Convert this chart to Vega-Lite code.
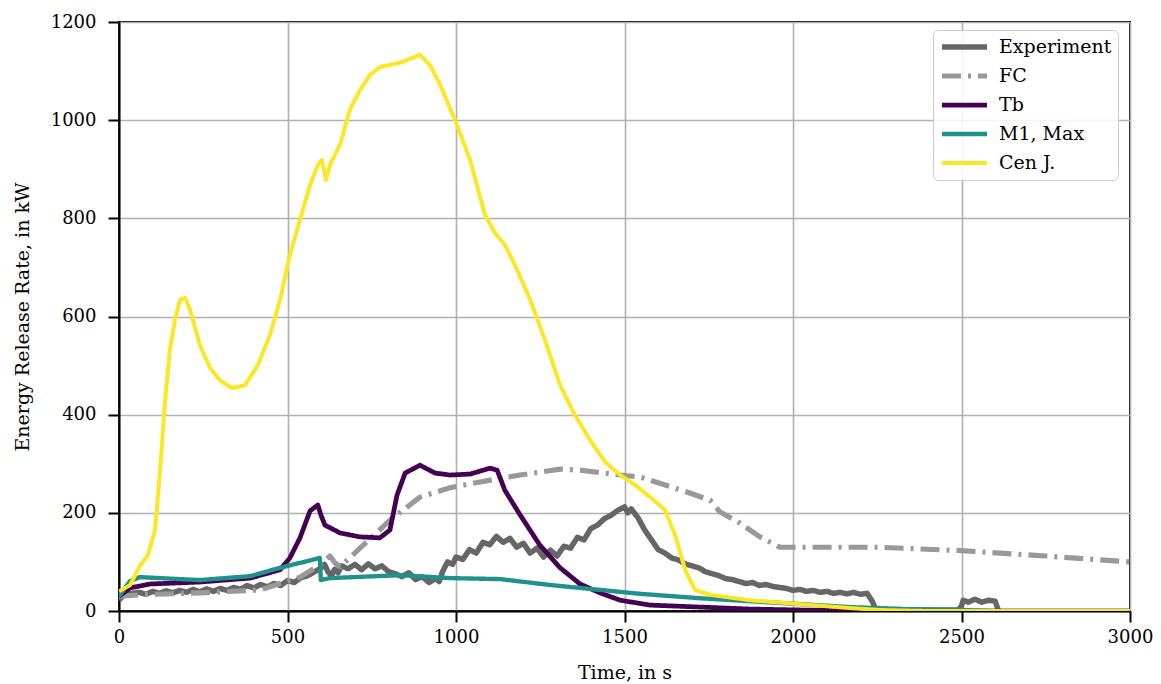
{
  "$schema": "https://vega.github.io/schema/vega-lite/v6.json",
  "width": 1011,
  "height": 589,
  "autosize": "none",
  "padding": {"left": 119, "top": 22, "right": 31, "bottom": 73},
  "background": "white",
  "config": {
    "font": "DejaVu Serif",
    "view": {"stroke": "black", "strokeWidth": 2},
    "axis": {
      "labelFont": "DejaVu Serif", "titleFont": "DejaVu Serif",
      "labelFontSize": 18, "titleFontSize": 19, "titleFontWeight": "normal",
      "labelColor": "black", "titleColor": "black",
      "domainColor": "black", "domainWidth": 2,
      "tickColor": "black", "tickWidth": 2, "tickSize": 11,
      "gridColor": "#b0b0b0", "gridWidth": 1.6, "gridOpacity": 1,
      "format": "d"
    }
  },
  "data": {"values": [
    {"s":"Experiment","t":0,"v":22},{"s":"Experiment","t":10,"v":30},{"s":"Experiment","t":20,"v":34},{"s":"Experiment","t":40,"v":36},{"s":"Experiment","t":60,"v":38},{"s":"Experiment","t":80,"v":34},{"s":"Experiment","t":100,"v":40},{"s":"Experiment","t":120,"v":36},{"s":"Experiment","t":140,"v":41},{"s":"Experiment","t":160,"v":37},{"s":"Experiment","t":180,"v":42},{"s":"Experiment","t":200,"v":38},{"s":"Experiment","t":220,"v":44},{"s":"Experiment","t":240,"v":39},{"s":"Experiment","t":260,"v":45},{"s":"Experiment","t":280,"v":40},{"s":"Experiment","t":300,"v":46},{"s":"Experiment","t":320,"v":42},{"s":"Experiment","t":340,"v":48},{"s":"Experiment","t":360,"v":44},{"s":"Experiment","t":380,"v":52},{"s":"Experiment","t":400,"v":47},{"s":"Experiment","t":420,"v":54},{"s":"Experiment","t":440,"v":49},{"s":"Experiment","t":460,"v":56},{"s":"Experiment","t":480,"v":52},{"s":"Experiment","t":500,"v":62},{"s":"Experiment","t":520,"v":58},{"s":"Experiment","t":540,"v":68},{"s":"Experiment","t":560,"v":72},{"s":"Experiment","t":580,"v":80},{"s":"Experiment","t":600,"v":88},{"s":"Experiment","t":610,"v":95},{"s":"Experiment","t":620,"v":80},{"s":"Experiment","t":630,"v":72},{"s":"Experiment","t":640,"v":85},{"s":"Experiment","t":650,"v":78},{"s":"Experiment","t":660,"v":92},{"s":"Experiment","t":680,"v":86},{"s":"Experiment","t":700,"v":95},{"s":"Experiment","t":720,"v":84},{"s":"Experiment","t":740,"v":96},{"s":"Experiment","t":760,"v":86},{"s":"Experiment","t":780,"v":92},{"s":"Experiment","t":800,"v":80},{"s":"Experiment","t":820,"v":76},{"s":"Experiment","t":840,"v":70},{"s":"Experiment","t":860,"v":78},{"s":"Experiment","t":880,"v":64},{"s":"Experiment","t":900,"v":70},{"s":"Experiment","t":920,"v":58},{"s":"Experiment","t":940,"v":66},{"s":"Experiment","t":950,"v":60},{"s":"Experiment","t":960,"v":80},{"s":"Experiment","t":975,"v":100},{"s":"Experiment","t":990,"v":95},{"s":"Experiment","t":1000,"v":110},{"s":"Experiment","t":1020,"v":105},{"s":"Experiment","t":1040,"v":125},{"s":"Experiment","t":1060,"v":118},{"s":"Experiment","t":1080,"v":140},{"s":"Experiment","t":1100,"v":135},{"s":"Experiment","t":1120,"v":152},{"s":"Experiment","t":1140,"v":140},{"s":"Experiment","t":1160,"v":148},{"s":"Experiment","t":1180,"v":130},{"s":"Experiment","t":1200,"v":138},{"s":"Experiment","t":1220,"v":118},{"s":"Experiment","t":1240,"v":128},{"s":"Experiment","t":1260,"v":110},{"s":"Experiment","t":1280,"v":124},{"s":"Experiment","t":1300,"v":112},{"s":"Experiment","t":1320,"v":132},{"s":"Experiment","t":1340,"v":128},{"s":"Experiment","t":1360,"v":150},{"s":"Experiment","t":1380,"v":145},{"s":"Experiment","t":1400,"v":168},{"s":"Experiment","t":1420,"v":175},{"s":"Experiment","t":1440,"v":188},{"s":"Experiment","t":1460,"v":195},{"s":"Experiment","t":1480,"v":205},{"s":"Experiment","t":1500,"v":212},{"s":"Experiment","t":1510,"v":200},{"s":"Experiment","t":1520,"v":208},{"s":"Experiment","t":1540,"v":190},{"s":"Experiment","t":1560,"v":165},{"s":"Experiment","t":1580,"v":145},{"s":"Experiment","t":1600,"v":125},{"s":"Experiment","t":1620,"v":118},{"s":"Experiment","t":1640,"v":108},{"s":"Experiment","t":1660,"v":104},{"s":"Experiment","t":1680,"v":96},{"s":"Experiment","t":1700,"v":92},{"s":"Experiment","t":1720,"v":88},{"s":"Experiment","t":1740,"v":80},{"s":"Experiment","t":1760,"v":76},{"s":"Experiment","t":1780,"v":72},{"s":"Experiment","t":1800,"v":66},{"s":"Experiment","t":1820,"v":64},{"s":"Experiment","t":1840,"v":60},{"s":"Experiment","t":1860,"v":56},{"s":"Experiment","t":1880,"v":58},{"s":"Experiment","t":1900,"v":52},{"s":"Experiment","t":1920,"v":54},{"s":"Experiment","t":1940,"v":50},{"s":"Experiment","t":1960,"v":48},{"s":"Experiment","t":1980,"v":46},{"s":"Experiment","t":2000,"v":42},{"s":"Experiment","t":2020,"v":44},{"s":"Experiment","t":2040,"v":40},{"s":"Experiment","t":2060,"v":42},{"s":"Experiment","t":2080,"v":38},{"s":"Experiment","t":2100,"v":40},{"s":"Experiment","t":2120,"v":36},{"s":"Experiment","t":2140,"v":38},{"s":"Experiment","t":2160,"v":35},{"s":"Experiment","t":2180,"v":38},{"s":"Experiment","t":2200,"v":34},{"s":"Experiment","t":2220,"v":36},{"s":"Experiment","t":2235,"v":20},{"s":"Experiment","t":2245,"v":4},{"s":"Experiment","t":2300,"v":3},{"s":"Experiment","t":2400,"v":2},{"s":"Experiment","t":2490,"v":2},{"s":"Experiment","t":2500,"v":10},{"s":"Experiment","t":2505,"v":22},{"s":"Experiment","t":2520,"v":18},{"s":"Experiment","t":2540,"v":24},{"s":"Experiment","t":2560,"v":18},{"s":"Experiment","t":2580,"v":22},{"s":"Experiment","t":2600,"v":20},{"s":"Experiment","t":2610,"v":0},

    {"s":"FC","t":0,"v":30},{"s":"FC","t":62,"v":33},{"s":"FC","t":240,"v":37},{"s":"FC","t":419,"v":43},{"s":"FC","t":537,"v":69},{"s":"FC","t":596,"v":94},{"s":"FC","t":626,"v":112},{"s":"FC","t":641,"v":98},{"s":"FC","t":656,"v":90},{"s":"FC","t":715,"v":128},{"s":"FC","t":804,"v":185},{"s":"FC","t":893,"v":232},{"s":"FC","t":982,"v":251},{"s":"FC","t":1071,"v":263},{"s":"FC","t":1190,"v":277},{"s":"FC","t":1309,"v":289},{"s":"FC","t":1368,"v":287},{"s":"FC","t":1487,"v":277},{"s":"FC","t":1546,"v":273},{"s":"FC","t":1665,"v":247},{"s":"FC","t":1754,"v":226},{"s":"FC","t":1783,"v":202},{"s":"FC","t":1843,"v":179},{"s":"FC","t":1902,"v":151},{"s":"FC","t":1961,"v":130},{"s":"FC","t":2250,"v":130},{"s":"FC","t":2500,"v":123},{"s":"FC","t":2750,"v":112},{"s":"FC","t":3000,"v":100},

    {"s":"Tb","t":0,"v":30},{"s":"Tb","t":33,"v":47},{"s":"Tb","t":92,"v":55},{"s":"Tb","t":240,"v":59},{"s":"Tb","t":389,"v":67},{"s":"Tb","t":478,"v":84},{"s":"Tb","t":507,"v":108},{"s":"Tb","t":537,"v":149},{"s":"Tb","t":567,"v":204},{"s":"Tb","t":590,"v":216},{"s":"Tb","t":599,"v":196},{"s":"Tb","t":611,"v":175},{"s":"Tb","t":656,"v":159},{"s":"Tb","t":715,"v":151},{"s":"Tb","t":774,"v":149},{"s":"Tb","t":804,"v":165},{"s":"Tb","t":825,"v":236},{"s":"Tb","t":849,"v":281},{"s":"Tb","t":893,"v":297},{"s":"Tb","t":938,"v":281},{"s":"Tb","t":982,"v":277},{"s":"Tb","t":1042,"v":279},{"s":"Tb","t":1101,"v":291},{"s":"Tb","t":1122,"v":287},{"s":"Tb","t":1145,"v":246},{"s":"Tb","t":1190,"v":196},{"s":"Tb","t":1249,"v":134},{"s":"Tb","t":1309,"v":88},{"s":"Tb","t":1368,"v":55},{"s":"Tb","t":1427,"v":37},{"s":"Tb","t":1487,"v":22},{"s":"Tb","t":1576,"v":12},{"s":"Tb","t":1724,"v":8},{"s":"Tb","t":1872,"v":4},{"s":"Tb","t":2021,"v":2},{"s":"Tb","t":2200,"v":0},{"s":"Tb","t":3000,"v":0},

    {"s":"M1, Max","t":0,"v":30},{"s":"M1, Max","t":33,"v":61},{"s":"M1, Max","t":62,"v":69},{"s":"M1, Max","t":122,"v":67},{"s":"M1, Max","t":240,"v":63},{"s":"M1, Max","t":389,"v":71},{"s":"M1, Max","t":478,"v":88},{"s":"M1, Max","t":537,"v":98},{"s":"M1, Max","t":596,"v":108},{"s":"M1, Max","t":599,"v":63},{"s":"M1, Max","t":626,"v":67},{"s":"M1, Max","t":834,"v":73},{"s":"M1, Max","t":982,"v":67},{"s":"M1, Max","t":1131,"v":65},{"s":"M1, Max","t":1279,"v":53},{"s":"M1, Max","t":1427,"v":43},{"s":"M1, Max","t":1546,"v":35},{"s":"M1, Max","t":1724,"v":26},{"s":"M1, Max","t":1872,"v":20},{"s":"M1, Max","t":2021,"v":14},{"s":"M1, Max","t":2169,"v":8},{"s":"M1, Max","t":2318,"v":4},{"s":"M1, Max","t":2496,"v":2},{"s":"M1, Max","t":2600,"v":0},{"s":"M1, Max","t":3000,"v":0},

    {"s":"Cen J.","t":0,"v":40},{"s":"Cen J.","t":33,"v":53},{"s":"Cen J.","t":62,"v":92},{"s":"Cen J.","t":86,"v":114},{"s":"Cen J.","t":107,"v":165},{"s":"Cen J.","t":122,"v":287},{"s":"Cen J.","t":137,"v":430},{"s":"Cen J.","t":151,"v":532},{"s":"Cen J.","t":166,"v":593},{"s":"Cen J.","t":181,"v":634},{"s":"Cen J.","t":196,"v":638},{"s":"Cen J.","t":211,"v":613},{"s":"Cen J.","t":240,"v":542},{"s":"Cen J.","t":270,"v":495},{"s":"Cen J.","t":300,"v":470},{"s":"Cen J.","t":335,"v":454},{"s":"Cen J.","t":374,"v":460},{"s":"Cen J.","t":412,"v":501},{"s":"Cen J.","t":448,"v":562},{"s":"Cen J.","t":478,"v":634},{"s":"Cen J.","t":507,"v":725},{"s":"Cen J.","t":537,"v":797},{"s":"Cen J.","t":567,"v":868},{"s":"Cen J.","t":590,"v":909},{"s":"Cen J.","t":602,"v":919},{"s":"Cen J.","t":614,"v":878},{"s":"Cen J.","t":626,"v":909},{"s":"Cen J.","t":656,"v":950},{"s":"Cen J.","t":685,"v":1021},{"s":"Cen J.","t":715,"v":1061},{"s":"Cen J.","t":745,"v":1092},{"s":"Cen J.","t":774,"v":1108},{"s":"Cen J.","t":834,"v":1117},{"s":"Cen J.","t":893,"v":1133},{"s":"Cen J.","t":923,"v":1112},{"s":"Cen J.","t":953,"v":1072},{"s":"Cen J.","t":997,"v":1000},{"s":"Cen J.","t":1042,"v":919},{"s":"Cen J.","t":1086,"v":807},{"s":"Cen J.","t":1116,"v":770},{"s":"Cen J.","t":1145,"v":746},{"s":"Cen J.","t":1175,"v":705},{"s":"Cen J.","t":1220,"v":634},{"s":"Cen J.","t":1264,"v":552},{"s":"Cen J.","t":1309,"v":460},{"s":"Cen J.","t":1353,"v":399},{"s":"Cen J.","t":1398,"v":348},{"s":"Cen J.","t":1442,"v":304},{"s":"Cen J.","t":1487,"v":277},{"s":"Cen J.","t":1531,"v":257},{"s":"Cen J.","t":1576,"v":232},{"s":"Cen J.","t":1620,"v":206},{"s":"Cen J.","t":1650,"v":155},{"s":"Cen J.","t":1680,"v":84},{"s":"Cen J.","t":1709,"v":43},{"s":"Cen J.","t":1754,"v":33},{"s":"Cen J.","t":1872,"v":22},{"s":"Cen J.","t":2021,"v":14},{"s":"Cen J.","t":2169,"v":6},{"s":"Cen J.","t":2258,"v":2},{"s":"Cen J.","t":2400,"v":0},{"s":"Cen J.","t":3000,"v":0}
  ]},
  "mark": {"type": "line", "clip": true, "strokeJoin": "round"},
  "encoding": {
    "x": {"field": "t", "type": "quantitative", "title": "Time, in s",
      "scale": {"domain": [0, 3000], "nice": false, "zero": false},
      "axis": {"values": [0, 500, 1000, 1500, 2000, 2500, 3000], "labelFlush": false, "labelPadding": 6, "titlePadding": 17}},
    "y": {"field": "v", "type": "quantitative", "title": "Energy Release Rate, in kW",
      "scale": {"domain": [0, 1200], "nice": false},
      "axis": {"values": [0, 200, 400, 600, 800, 1000, 1200], "labelFlush": false, "labelPadding": 12, "titlePadding": 18}},
    "color": {"field": "s", "type": "nominal",
      "scale": {"domain": ["Experiment", "FC", "Tb", "M1, Max", "Cen J."],
                "range": ["#666666", "#999999", "#440154", "#21918c", "#fde725"]},
      "legend": {"title": null, "orient": "none", "legendX": 814, "legendY": 8,
        "fillColor": "rgba(255,255,255,0.85)", "strokeColor": "#cccccc", "cornerRadius": 5, "padding": 6,
        "labelFont": "DejaVu Serif", "labelFontSize": 19, "labelColor": "black",
        "symbolType": "stroke", "symbolSize": 2025, "symbolStrokeWidth": 4,
        "clipHeight": 22, "rowPadding": 7, "labelOffset": 9}},
    "strokeDash": {"field": "s", "type": "nominal",
      "scale": {"domain": ["Experiment", "FC", "Tb", "M1, Max", "Cen J."],
                "range": [[1, 0], [19, 7, 3, 7], [1, 0], [1, 0], [1, 0]]},
      "legend": null},
    "strokeWidth": {"field": "s", "type": "nominal",
      "scale": {"domain": ["Experiment", "FC", "Tb", "M1, Max", "Cen J."],
                "range": [5.5, 4, 4, 4, 4]},
      "legend": null},
    "order": {"field": "t", "type": "quantitative"}
  }
}
